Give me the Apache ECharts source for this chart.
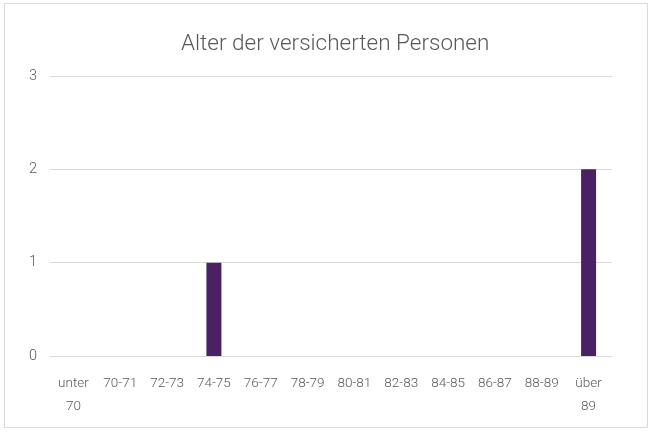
<!DOCTYPE html>
<html lang="de" style="height: 100%">

<head>
  <meta charset="utf-8">
</head>

<body style="height: 100%; margin: 0">
  <div id="container" style="width: 650px; height: 436px"></div>

  <script type="text/javascript" src="https://fastly.jsdelivr.net/npm/echarts@6.0.0/dist/echarts.min.js"></script>
  <script type="text/javascript">
    // Altersgruppen und Anzahl der versicherten Personen
    var categories = ['unter\n70', '70-71', '72-73', '74-75', '76-77', '78-79', '80-81', '82-83', '84-85', '86-87', '88-89', 'über\n89'];
    var counts = [0, 0, 0, 1, 0, 0, 0, 0, 0, 0, 0, 2];
    var yTicks = [0, 1, 2, 3];

    var dom = document.getElementById('container');
    var myChart = echarts.init(dom, null, {
      renderer: 'canvas',
      useDirtyRect: false
    });

    var textColor = '#595959';
    var font = 'Roboto';

    var option = {
      backgroundColor: '#ffffff',
      animation: false,
      title: {
        text: 'Alter der versicherten Personen',
        left: 176,
        top: 28,
        textStyle: {
          fontFamily: font,
          fontWeight: 300,
          fontSize: 22.5,
          color: textColor
        }
      },
      graphic: [
        {
          type: 'rect',
          shape: { x: 4.5, y: 3.5, width: 643, height: 424 },
          style: { fill: 'none', stroke: '#d9d9d9', lineWidth: 1 },
          silent: true
        }
      ],
      grid: {
        left: 50,
        right: 38,
        top: 76,
        bottom: 80,
        containLabel: false
      },
      xAxis: {
        type: 'category',
        data: categories,
        axisTick: { show: false },
        axisLine: { lineStyle: { color: '#d9d9d9', width: 1 } },
        axisLabel: {
          interval: 0,
          margin: 16,
          color: textColor,
          fontFamily: font,
          fontWeight: 300,
          fontSize: 13.5,
          lineHeight: 23
        }
      },
      yAxis: {
        type: 'value',
        min: yTicks[0],
        max: yTicks[yTicks.length - 1],
        interval: 1,
        axisLine: { show: false },
        axisTick: { show: false },
        splitLine: { lineStyle: { color: '#d9d9d9', width: 1 } },
        axisLabel: {
          margin: 13,
          color: textColor,
          fontFamily: font,
          fontWeight: 300,
          fontSize: 14.5
        }
      },
      series: [
        {
          name: 'Anzahl',
          type: 'bar',
          barWidth: 15,
          color: '#4a2264',
          data: counts
        }
      ]
    };

    if (option && typeof option === 'object') {
      myChart.setOption(option);
    }

    window.addEventListener('resize', myChart.resize);
  </script>
</body>

</html>
